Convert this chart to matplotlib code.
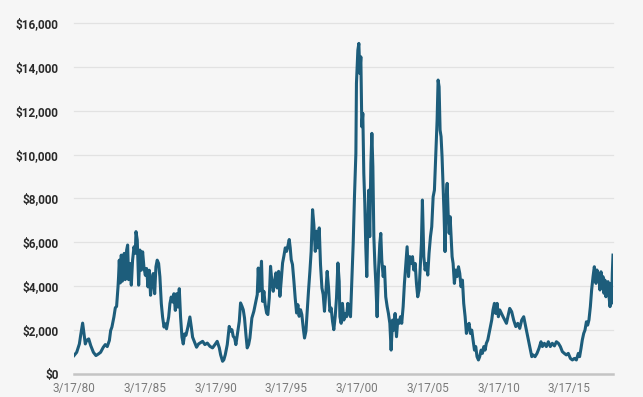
import matplotlib
matplotlib.use('Agg')
import matplotlib.pyplot as plt

# price readings (decimal year, dollars)
years_80s = [1980.21, 1980.40, 1980.59, 1980.68, 1980.82, 1980.92, 1981.01, 1981.10, 1981.25, 1981.39,
             1981.58, 1981.76, 1981.95, 1982.09, 1982.28, 1982.42, 1982.56, 1982.71, 1982.80, 1982.89,
             1983.03, 1983.13, 1983.22, 1983.32, 1983.36, 1983.41, 1983.48, 1983.55, 1983.62, 1983.69,
             1983.76, 1983.83, 1983.93, 1984.00, 1984.07, 1984.16, 1984.26, 1984.35, 1984.45, 1984.54,
             1984.59, 1984.68, 1984.78, 1984.87, 1984.96, 1985.06, 1985.15, 1985.25, 1985.34, 1985.44,
             1985.53, 1985.62, 1985.72, 1985.81, 1985.91, 1986.00, 1986.09, 1986.19, 1986.28, 1986.38,
             1986.47, 1986.57, 1986.66, 1986.75, 1986.90, 1986.99, 1987.08, 1987.18, 1987.27, 1987.37,
             1987.46, 1987.55, 1987.65, 1987.74, 1987.84, 1987.93, 1988.03, 1988.12, 1988.26, 1988.40,
             1988.50, 1988.59, 1988.73, 1988.87, 1989.01]
price_80s = [840, 990, 1370, 1760, 2320, 1830, 1370, 1530, 1600, 1300,
             990, 840, 920, 990, 1220, 1340, 1250, 1530, 1980, 2140,
             2600, 3020, 3080, 3970, 4430, 5190, 4150, 5420, 4230, 5110,
             5500, 4300, 5650, 5880, 4300, 5040, 4050, 5190, 5800, 5500,
             6490, 6110, 4050, 5650, 4730, 5570, 4890, 4500, 4810, 3970,
             4730, 3590, 4280, 4580, 3660, 4890, 5190, 5040, 4430, 3210,
             2600, 2140, 2290, 2060, 2600, 3210, 3510, 3280, 3660, 2900,
             3660, 3050, 3890, 2600, 1680, 1370, 1830, 1760, 2140, 2600,
             2140, 1680, 1450, 1220, 1370]

years_90s = [1989.11, 1989.30, 1989.46, 1989.63, 1989.82, 1990.00, 1990.17, 1990.33, 1990.48, 1990.57,
             1990.71, 1990.80, 1990.90, 1991.04, 1991.18, 1991.28, 1991.37, 1991.46, 1991.56, 1991.65,
             1991.75, 1991.89, 1991.98, 1992.08, 1992.17, 1992.26, 1992.36, 1992.45, 1992.55, 1992.64,
             1992.78, 1992.92, 1993.06, 1993.16, 1993.23, 1993.30, 1993.39, 1993.46, 1993.54, 1993.63,
             1993.72, 1993.82, 1993.91, 1994.01, 1994.10, 1994.19, 1994.29, 1994.38, 1994.48, 1994.57,
             1994.67, 1994.76, 1994.85, 1994.95, 1995.04, 1995.14, 1995.23, 1995.32, 1995.42, 1995.49,
             1995.56, 1995.65, 1995.75, 1995.84, 1995.94, 1996.03, 1996.12, 1996.22, 1996.31, 1996.41,
             1996.50, 1996.60, 1996.69, 1996.78, 1996.88, 1996.97, 1997.07, 1997.16, 1997.26, 1997.35,
             1997.44, 1997.54, 1997.63, 1997.73, 1997.82, 1997.91, 1998.01, 1998.10, 1998.20, 1998.29,
             1998.38, 1998.48, 1998.57, 1998.67, 1998.76, 1998.86, 1998.95]
price_90s = [1410, 1490, 1340, 1410, 1260, 1190, 1340, 1490, 1190, 880,
             580, 650, 880, 1340, 2170, 1950, 2020, 1720, 1640, 1340,
             1790, 2400, 3240, 3090, 2930, 2550, 1790, 1190, 1340, 1640,
             2550, 2860, 3310, 3620, 4830, 3770, 4380, 5140, 3310, 3770,
             3160, 2780, 2710, 3470, 4910, 4230, 3770, 4230, 4610, 3920,
             4680, 3540, 4230, 5060, 5370, 5750, 5590, 5820, 6130, 5750,
             5210, 4990, 4230, 3470, 2780, 3160, 2630, 2930, 2710, 2100,
             1640, 1950, 2860, 3770, 4680, 5590, 7490, 6810, 5590, 6510,
             5750, 6660, 4990, 3920, 3620, 2860, 3770, 4680, 3920, 2860,
             3010, 2400, 2020, 2630, 3470, 5060, 4230]

years_00s = [1999.00, 1999.09, 1999.18, 1999.28, 1999.37, 1999.47, 1999.56, 1999.66, 1999.75, 1999.84,
             1999.94, 2000.03, 2000.13, 2000.17, 2000.27, 2000.34, 2000.41, 2000.48, 2000.55, 2000.62,
             2000.69, 2000.76, 2000.83, 2000.90, 2000.97, 2001.04, 2001.11, 2001.19, 2001.26, 2001.33,
             2001.40, 2001.47, 2001.54, 2001.63, 2001.73, 2001.82, 2001.89, 2001.96, 2002.06, 2002.15,
             2002.24, 2002.34, 2002.43, 2002.53, 2002.62, 2002.72, 2002.81, 2002.90, 2003.00, 2003.09,
             2003.19, 2003.28, 2003.37, 2003.47, 2003.56, 2003.66, 2003.75, 2003.85, 2003.94, 2004.03,
             2004.13, 2004.22, 2004.32, 2004.41, 2004.50, 2004.60]
price_00s = [2610, 2310, 3220, 2460, 2760, 2610, 3220, 2760, 2610, 4130,
             5950, 8080, 10060, 13250, 14760, 15070, 13700, 14460, 11270, 11880,
             9140, 7780, 5800, 4440, 6710, 8380, 6260, 9600, 10970, 9450,
             6260, 5040, 4130, 2610, 4740, 5950, 6410, 5200, 4440, 4890,
             3520, 3070, 2760, 2310, 1090, 2460, 2000, 2760, 1700, 2460,
             2310, 2610, 2310, 3070, 4130, 5040, 5800, 4440, 5350, 5040,
             5350, 4740, 5040, 4130, 3520, 3830]

years_05s = [2004.76, 2004.83, 2004.93, 2005.02, 2005.12, 2005.21, 2005.30, 2005.40, 2005.49, 2005.59,
             2005.68, 2005.78, 2005.87, 2005.94, 2006.01, 2006.08, 2006.15, 2006.22, 2006.29, 2006.36,
             2006.43, 2006.50, 2006.58, 2006.65, 2006.72, 2006.79, 2006.86, 2006.93, 2007.00, 2007.09,
             2007.19, 2007.28, 2007.38, 2007.47, 2007.56, 2007.66, 2007.75, 2007.85, 2007.94, 2008.03,
             2008.13, 2008.22, 2008.32, 2008.41, 2008.51, 2008.60, 2008.69, 2008.79, 2008.88, 2008.98,
             2009.07, 2009.17, 2009.26, 2009.35, 2009.45, 2009.54, 2009.64, 2009.73, 2009.82, 2009.92,
             2010.01, 2010.11, 2010.20]
price_05s = [5950, 7930, 5350, 4740, 5040, 4510, 5500, 6260, 6710, 8080,
             8380, 10060, 11570, 13400, 13090, 11120, 10820, 9900, 8540, 7320,
             5580, 7930, 8690, 7320, 6410, 7170, 6260, 5350, 5040, 4130,
             4740, 4440, 4890, 4590, 3980, 4280, 3220, 2610, 1850, 2160,
             2310, 1850, 2000, 1550, 1090, 1250, 790, 640, 790, 1090,
             940, 1250, 1090, 1400, 1550, 1850, 2160, 2460, 2920, 3220,
             2760, 3220, 2610]

years_10s = [2010.30, 2010.53, 2010.77, 2011.00, 2011.14, 2011.28, 2011.43, 2011.57, 2011.71, 2011.85,
             2011.99, 2012.08, 2012.18, 2012.32, 2012.46, 2012.56, 2012.65, 2012.79, 2012.93, 2013.07,
             2013.21, 2013.31, 2013.45, 2013.59, 2013.73, 2013.87, 2014.01, 2014.16, 2014.30, 2014.44,
             2014.58, 2014.72, 2014.86, 2015.00, 2015.14, 2015.29, 2015.43, 2015.57, 2015.71, 2015.85,
             2015.94, 2016.04, 2016.13, 2016.23, 2016.32, 2016.42, 2016.51, 2016.60, 2016.70, 2016.79,
             2016.89, 2016.98, 2017.03, 2017.10, 2017.17, 2017.24, 2017.31, 2017.38, 2017.45, 2017.52,
             2017.59, 2017.66, 2017.73, 2017.80, 2017.87, 2017.95, 2018.02, 2018.09, 2018.16, 2018.20,
             2018.25, 2018.30]
price_10s = [2920, 2610, 2310, 2990, 2840, 2460, 2160, 2310, 2080, 2460,
             2610, 2310, 2000, 1550, 1090, 790, 870, 790, 940, 1170,
             1470, 1250, 1400, 1250, 1470, 1250, 1400, 1280, 1470, 1400,
             1250, 1020, 940, 870, 940, 710, 640, 710, 640, 940,
             790, 1170, 1550, 1850, 2000, 2380, 2230, 2460, 3070, 3830,
             4440, 4890, 4660, 4130, 4740, 4280, 4590, 3830, 4660, 3980,
             4440, 3680, 4280, 3520, 3980, 4210, 3520, 3070, 4130, 3220,
             4590, 5420]

tick_years = [1980.21, 1985.21, 1990.21, 1995.21, 2000.21, 2005.21, 2010.21, 2015.21]
tick_labels = ['3/17/80', '3/17/85', '3/17/90', '3/17/95', '3/17/00', '3/17/05', '3/17/10', '3/17/15']
y_ticks = [0, 2000, 4000, 6000, 8000, 10000, 12000, 14000, 16000]
y_labels = ['$0', '$2,000', '$4,000', '$6,000', '$8,000', '$10,000', '$12,000', '$14,000', '$16,000']

years = years_80s + years_90s + years_00s + years_05s + years_10s
prices = price_80s + price_90s + price_00s + price_05s + price_10s

plt.rcParams['font.family'] = ['Roboto', 'DejaVu Sans']
bg = '#f6f6f6'
fig = plt.figure(figsize=(6.43, 3.97), dpi=100, facecolor=bg)
ax = fig.add_axes([74/643, 23/397, 539/643, 351/397], facecolor=bg)

for v in y_ticks[1:]:
    ax.axhline(v, color='#e2e2e2', lw=0.9, zorder=1, clip_on=False)
ax.axhline(0, color='#c4c4c4', lw=1.8, zorder=1, clip_on=False)

ax.plot(years, prices, color='#1d5d7b', lw=2.2, solid_joinstyle='round', zorder=3)

ax.set_xlim(1980.21, 2018.30)
ax.set_ylim(0, 16000)
ax.set_xticks(tick_years)
ax.set_xticklabels(tick_labels, color='#7a7a7a', fontsize=8.5)
ax.set_yticks(y_ticks)
ax.set_yticklabels(y_labels, color='#2a2a2a', fontsize=8.5, fontweight='bold')
ax.tick_params(axis='both', length=0)
ax.tick_params(axis='y', pad=11)
ax.tick_params(axis='x', pad=6)
for s in ax.spines.values():
    s.set_visible(False)

fig.savefig('out.png', dpi=100, facecolor=bg)
